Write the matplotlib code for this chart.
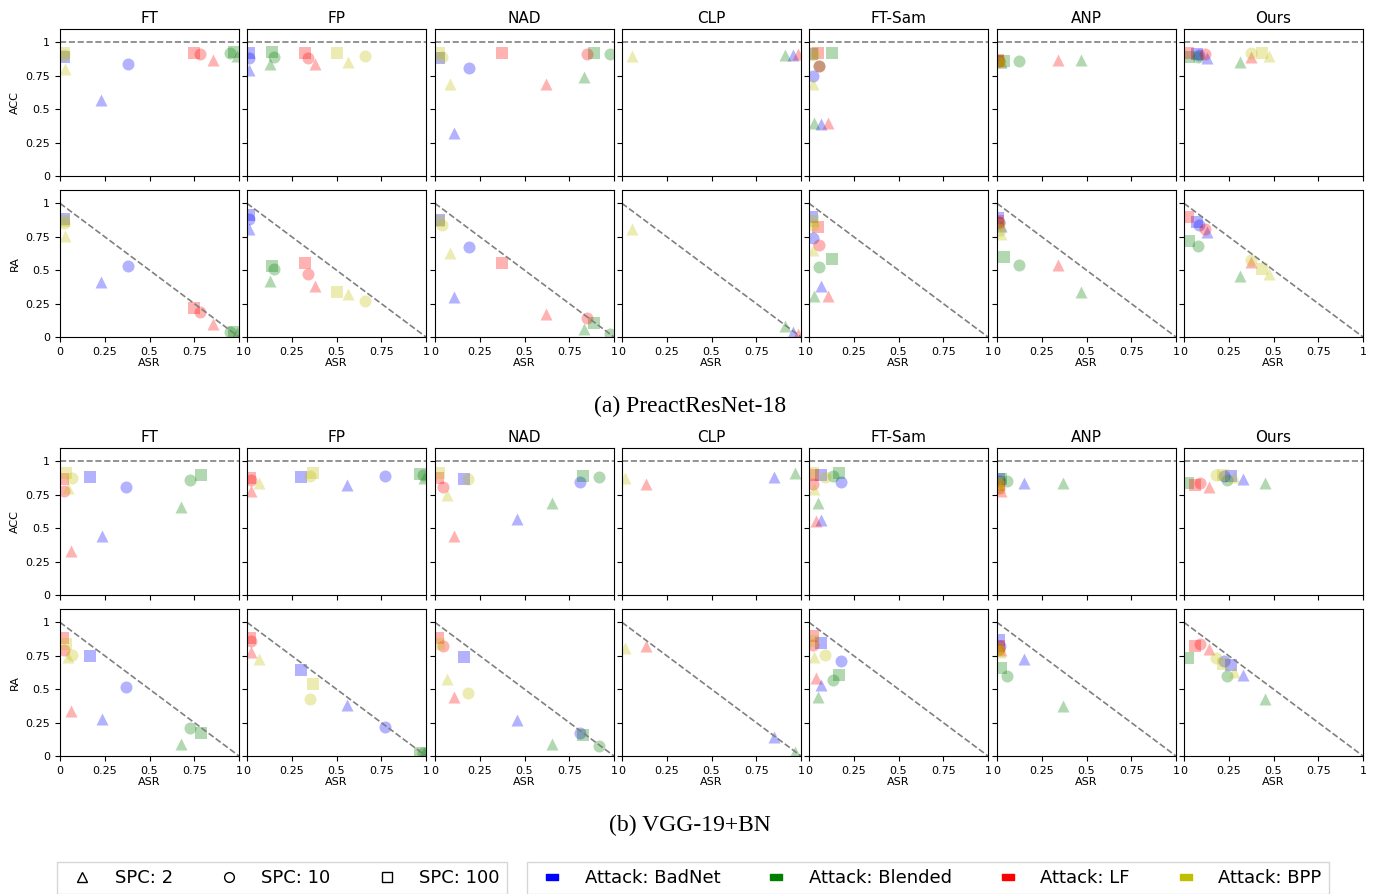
import numpy as np
import matplotlib
matplotlib.use("Agg")
import matplotlib.pyplot as plt
from matplotlib.lines import Line2D

methods = ["FT", "FP", "NAD", "CLP", "FT-Sam", "ANP", "Ours"]
attacks = ["BadNet", "Blended", "LF", "BPP"]
spcs = [2, 10, 100]
n = np.nan

# each list: BadNet(2,10,100), Blended(2,10,100), LF(2,10,100), BPP(2,10,100)
preact_asr = {
    "FT":     [0.23, 0.38, 0.02,  0.99, 0.95, 0.97,  0.856, 0.78, 0.75,  0.03, 0.02, 0.02],
    "FP":     [0.01, 0.013, 0.013, 0.13, 0.15, 0.14,  0.38, 0.34, 0.325,  0.565, 0.66, 0.50],
    "NAD":    [0.108, 0.19, 0.024, 0.834, 0.98, 0.89,  0.62, 0.85, 0.377,  0.084, 0.037, 0.024],
    "CLP":    [0.953, n, n,  0.91, n, n,  0.985, n, n,  0.056, n, n],
    "FT-Sam": [0.068, 0.023, 0.017, 0.03, 0.058, 0.13,  0.105, 0.058, 0.048,  0.02, 0.023, 0.025],
    "ANP":    [0.02, 0.01, 0.005,  0.47, 0.124, 0.04,  0.34, 0.01, 0.005,  0.02, 0.015, 0.01],
    "Ours":   [0.128, 0.083, 0.072, 0.314, 0.08, 0.03,  0.376, 0.118, 0.02,  0.475, 0.376, 0.434],
}
preact_acc = {
    "FT":     [0.57, 0.84, 0.89,  0.90, 0.92, 0.93,  0.87, 0.91, 0.92,  0.80, 0.905, 0.92],
    "FP":     [0.79, 0.885, 0.92,  0.835, 0.89, 0.925,  0.835, 0.88, 0.92,  0.855, 0.90, 0.92],
    "NAD":    [0.32, 0.81, 0.88,  0.74, 0.91, 0.92,  0.69, 0.91, 0.92,  0.685, 0.89, 0.92],
    "CLP":    [0.905, n, n,  0.905, n, n,  0.91, n, n,  0.90, n, n],
    "FT-Sam": [0.39, 0.75, 0.91,  0.40, 0.82, 0.92,  0.40, 0.82, 0.92,  0.69, 0.905, 0.92],
    "ANP":    [0.85, 0.86, 0.86,  0.87, 0.86, 0.86,  0.87, 0.86, 0.87,  0.85, 0.85, 0.86],
    "Ours":   [0.885, 0.905, 0.91,  0.855, 0.89, 0.89,  0.89, 0.91, 0.92,  0.90, 0.92, 0.92],
}
preact_ra = {
    "FT":     [0.41, 0.53, 0.885,  0.03, 0.04, 0.04,  0.10, 0.19, 0.22,  0.755, 0.85, 0.87],
    "FP":     [0.805, 0.885, 0.91,  0.42, 0.51, 0.535,  0.38, 0.47, 0.555,  0.32, 0.27, 0.34],
    "NAD":    [0.30, 0.67, 0.875,  0.0625, 0.02, 0.105,  0.175, 0.14, 0.555,  0.625, 0.84, 0.87],
    "CLP":    [0.04, n, n,  0.08, n, n,  0.02, n, n,  0.805, n, n],
    "FT-Sam": [0.385, 0.74, 0.90,  0.31, 0.525, 0.58,  0.31, 0.69, 0.82,  0.65, 0.84, 0.87],
    "ANP":    [0.83, 0.86, 0.89,  0.34, 0.54, 0.60,  0.54, 0.85, 0.87,  0.77, 0.80, 0.84],
    "Ours":   [0.785, 0.84, 0.86,  0.46, 0.68, 0.72,  0.56, 0.805, 0.90,  0.47, 0.575, 0.51],
}

vgg_asr = {
    "FT":     [0.233, 0.37, 0.17,  0.676, 0.726, 0.79,  0.06, 0.024, 0.019,  0.047, 0.065, 0.034],
    "FP":     [0.56, 0.77, 0.30,  0.99, 0.985, 0.968,  0.024, 0.022, 0.017,  0.065, 0.35, 0.37],
    "NAD":    [0.46, 0.81, 0.16,  0.655, 0.916, 0.826,  0.108, 0.043, 0.019,  0.069, 0.187, 0.024],
    "CLP":    [0.85, n, n,  0.965, n, n,  0.136, n, n,  0.015, n, n],
    "FT-Sam": [0.068, 0.178, 0.068,  0.048, 0.136, 0.165,  0.037, 0.023, 0.02,  0.027, 0.089, 0.025],
    "ANP":    [0.15, 0.015, 0.01,  0.368, 0.058, 0.02,  0.025, 0.012, 0.01,  0.015, 0.01, 0.008],
    "Ours":   [0.33, 0.225, 0.262,  0.455, 0.24, 0.025,  0.138, 0.087, 0.06,  0.28, 0.18, 0.217],
}
vgg_acc = {
    "FT":     [0.44, 0.81, 0.88,  0.66, 0.86, 0.895,  0.33, 0.78, 0.87,  0.80, 0.875, 0.91],
    "FP":     [0.82, 0.89, 0.88,  0.875, 0.90, 0.905,  0.775, 0.86, 0.875,  0.84, 0.89, 0.91],
    "NAD":    [0.57, 0.845, 0.87,  0.69, 0.88, 0.89,  0.445, 0.81, 0.875,  0.75, 0.865, 0.91],
    "CLP":    [0.88, n, n,  0.91, n, n,  0.83, n, n,  0.875, n, n],
    "FT-Sam": [0.56, 0.845, 0.90,  0.69, 0.89, 0.91,  0.555, 0.83, 0.90,  0.79, 0.88, 0.91],
    "ANP":    [0.84, 0.85, 0.87,  0.84, 0.85, 0.865,  0.775, 0.80, 0.82,  0.81, 0.83, 0.84],
    "Ours":   [0.87, 0.89, 0.89,  0.84, 0.86, 0.84,  0.81, 0.84, 0.825,  0.88, 0.90, 0.90],
}
vgg_ra = {
    "FT":     [0.28, 0.515, 0.745,  0.09, 0.21, 0.175,  0.335, 0.79, 0.88,  0.74, 0.755, 0.84],
    "FP":     [0.38, 0.22, 0.64,  0.02, 0.025, 0.025,  0.78, 0.86, 0.88,  0.725, 0.43, 0.54],
    "NAD":    [0.27, 0.175, 0.74,  0.09, 0.075, 0.155,  0.44, 0.82, 0.88,  0.575, 0.475, 0.84],
    "CLP":    [0.145, n, n,  0.03, n, n,  0.82, n, n,  0.81, n, n],
    "FT-Sam": [0.53, 0.71, 0.845,  0.445, 0.57, 0.605,  0.58, 0.83, 0.895,  0.74, 0.755, 0.86],
    "ANP":    [0.725, 0.825, 0.87,  0.375, 0.60, 0.655,  0.795, 0.80, 0.82,  0.78, 0.79, 0.81],
    "Ours":   [0.605, 0.71, 0.68,  0.425, 0.595, 0.73,  0.80, 0.84, 0.825,  0.63, 0.735, 0.69],
}

colors = {"BadNet": "b", "Blended": "g", "LF": "r", "BPP": "y"}
markers = {2: "^", 10: "o", 100: "s"}

W, H = 1379, 894
fig = plt.figure(figsize=(W / 100, H / 100), dpi=100)

col_left = [60, 247, 435, 622, 809, 997, 1184]
ax_w, ax_h = 179, 147
row_top = [29, 190, 448, 609]
ticks = [0, 0.25, 0.5, 0.75, 1]
tick_labels = ["0", "0.25", "0.5", "0.75", "1"]


def draw_panel(ax, asr, yval, is_acc):
    for a, attack in enumerate(attacks):
        for s, spc in enumerate(spcs):
            k = a * 3 + s
            if np.isnan(asr[k]):
                continue
            ax.scatter(asr[k], yval[k], c=colors[attack], marker=markers[spc],
                       s=75, alpha=0.3, linewidths=0)
    if is_acc:
        ax.axhline(1, color="gray", ls="--", lw=1.2)
    else:
        ax.plot([0, 1], [1, 0], color="gray", ls="--", lw=1.2)
    ax.set_xlim(0, 1)
    ax.set_ylim(0, 1.1)
    ax.set_xticks(ticks)
    ax.set_yticks(ticks)
    ax.tick_params(labelsize=8)


for block, (asr_d, acc_d, ra_d) in enumerate([(preact_asr, preact_acc, preact_ra),
                                              (vgg_asr, vgg_acc, vgg_ra)]):
    for r in range(2):
        top = row_top[block * 2 + r]
        for c, m in enumerate(methods):
            ax = fig.add_axes([col_left[c] / W, 1 - (top + ax_h) / H, ax_w / W, ax_h / H])
            draw_panel(ax, asr_d[m], acc_d[m] if r == 0 else ra_d[m], r == 0)
            if r == 0:
                ax.set_title(m, fontsize=11, pad=4)
                ax.set_xticklabels([])
            else:
                ax.set_xticklabels(tick_labels)
                ax.set_xlabel("ASR", fontsize=8, labelpad=1)
            if c == 0:
                ax.set_yticklabels(tick_labels)
                ax.set_ylabel("ACC" if r == 0 else "RA", fontsize=8)
            else:
                ax.set_yticklabels([])

fig.text(690 / W, 1 - 406 / H, "(a) PreactResNet-18", ha="center", va="center",
         fontsize=17, family="Liberation Serif")
fig.text(690 / W, 1 - 825 / H, "(b) VGG-19+BN", ha="center", va="center",
         fontsize=17, family="Liberation Serif")

# flat rectangle used as legend mark for the attacks
rect = [(-1, -0.55), (1, -0.55), (1, 0.55), (-1, 0.55), (-1, -0.55)]
spc_handles = [Line2D([], [], ls="none", marker=markers[s], mfc="none", mec="black",
                      ms=7, label=f"SPC: {s}") for s in spcs]
atk_handles = [Line2D([], [], ls="none", marker=rect, color=colors[a], ms=8,
                      label=f"Attack: {a}") for a in attacks]

leg_kw = dict(loc="upper left", fontsize=13, handlelength=2.0, handletextpad=0.8,
              columnspacing=2.1, borderaxespad=0, fancybox=False, edgecolor="#cccccc")
fig.legend(handles=spc_handles, ncol=3, bbox_to_anchor=(57 / W, 1 - 862 / H), **leg_kw)
fig.legend(handles=atk_handles, ncol=4, bbox_to_anchor=(527 / W, 1 - 862 / H), **leg_kw)

fig.savefig("out.png", dpi=100)
